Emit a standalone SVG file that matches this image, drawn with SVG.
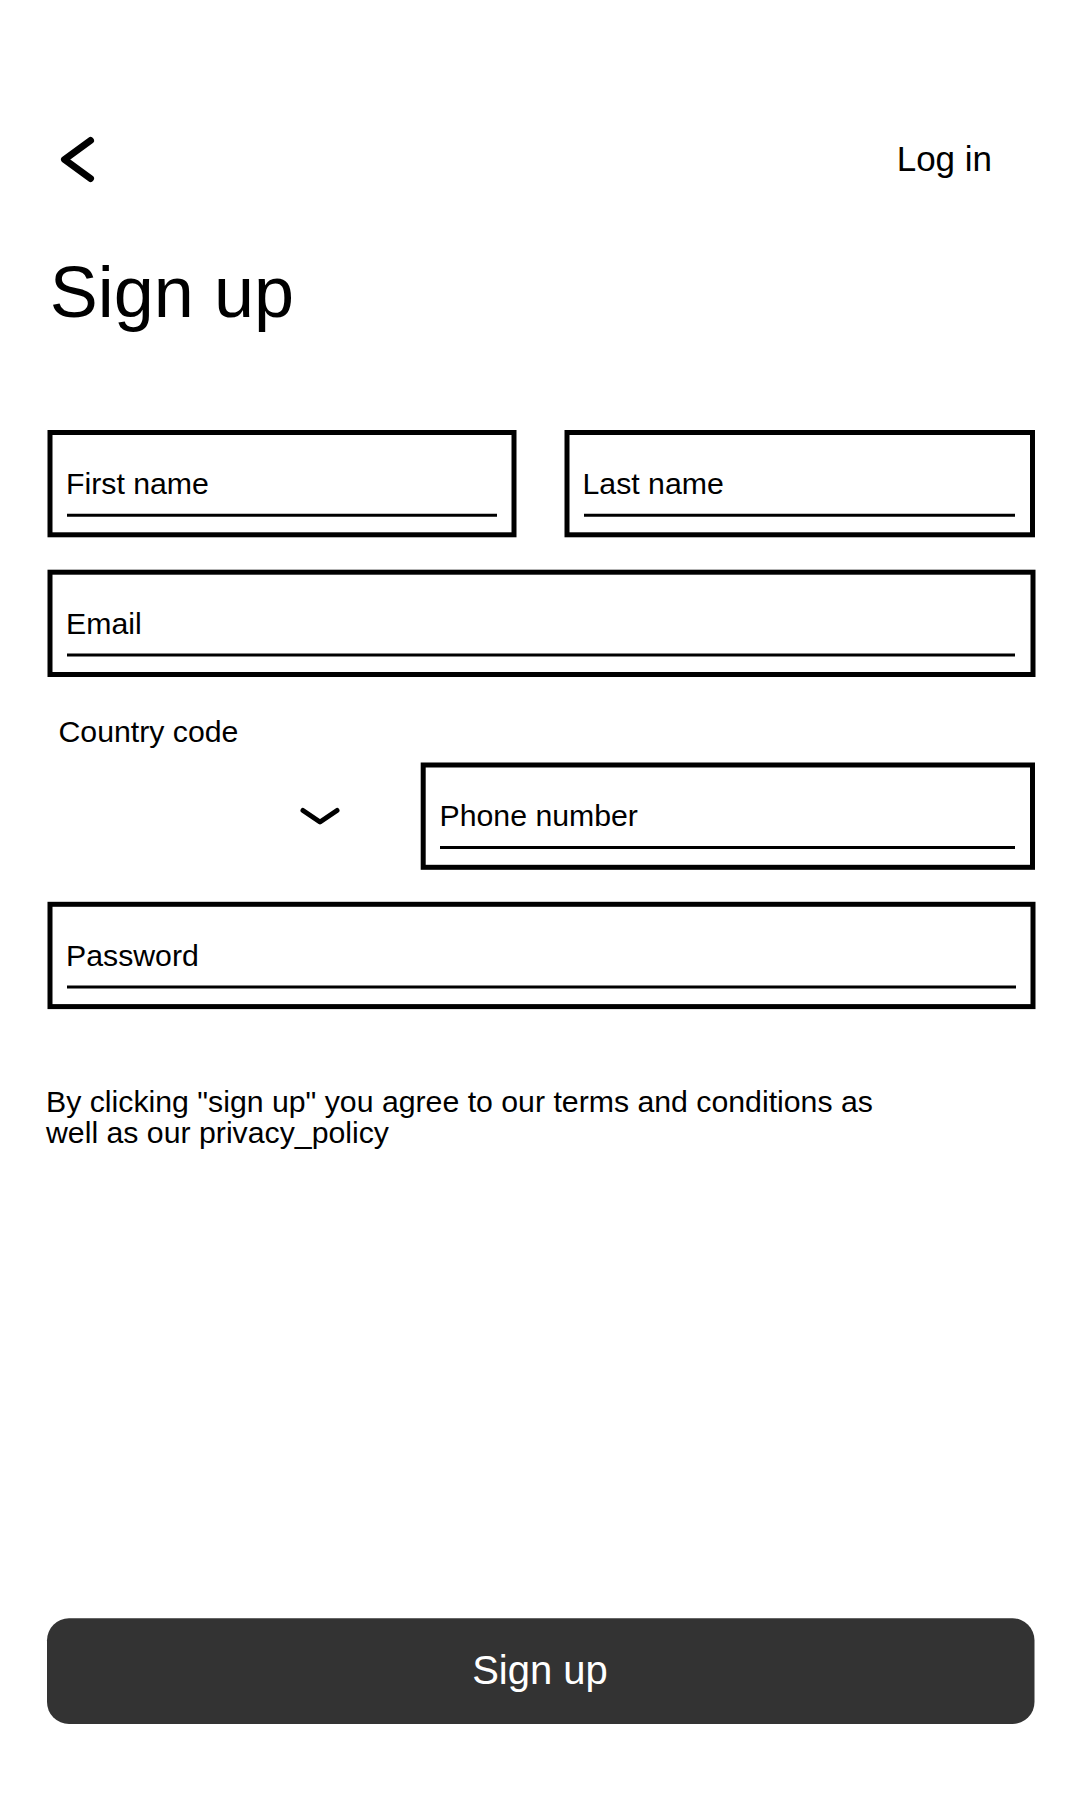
<svg xmlns="http://www.w3.org/2000/svg" width="1080" height="1800" viewBox="0 0 1080 1800">
  <style>
    text { font-family: "Liberation Sans", Arial, sans-serif; fill: #000000; }
    .box { fill: none; stroke: #000000; stroke-width: 5; }
    .ul { stroke: #000000; stroke-width: 3; }
    .lbl { font-size: 30.25px; }
    .chev { fill: none; stroke: #000000; stroke-linejoin: round; stroke-linecap: round; }
  </style>
  <rect x="0" y="0" width="1080" height="1800" fill="#ffffff"/>

  <g id="back-button">
    <polyline class="chev" points="90.5,140.5 64.5,159.5 90.5,178.5" stroke-width="7"/>
  </g>

  <g id="login-link">
    <text x="896.7" y="171" font-size="35">Log in</text>
  </g>

  <g id="title">
    <text x="49.8" y="316.7" font-size="72">Sign up</text>
  </g>

  <g id="first-name">
    <rect class="box" x="50" y="432.5" width="464" height="102.3"/>
    <line class="ul" x1="67" y1="515.3" x2="497" y2="515.3"/>
    <text class="lbl" x="66" y="493.5">First name</text>
  </g>

  <g id="last-name">
    <rect class="box" x="567" y="432.5" width="465.5" height="102.3"/>
    <line class="ul" x1="584" y1="515.3" x2="1015" y2="515.3"/>
    <text class="lbl" x="582.5" y="493.5">Last name</text>
  </g>

  <g id="email">
    <rect class="box" x="50" y="572.2" width="983" height="102.3"/>
    <line class="ul" x1="67" y1="655" x2="1015" y2="655"/>
    <text class="lbl" x="66" y="633.6">Email</text>
  </g>

  <g id="country-code">
    <text class="lbl" x="58.5" y="741.7">Country code</text>
    <polyline class="chev" points="303,810.5 320,822 337,810.5" stroke-width="5" stroke-linecap="butt" stroke-linejoin="miter"/>
  </g>

  <g id="phone-number">
    <rect class="box" x="423.2" y="765" width="609.3" height="102.3"/>
    <line class="ul" x1="440" y1="847.6" x2="1015" y2="847.6"/>
    <text class="lbl" x="439.5" y="826.2">Phone number</text>
  </g>

  <g id="password">
    <rect class="box" x="50" y="904.3" width="983" height="102.3"/>
    <line class="ul" x1="67" y1="987" x2="1016" y2="987"/>
    <text class="lbl" x="66" y="965.5">Password</text>
  </g>

  <g id="terms">
    <text class="lbl" x="46" y="1112">By clicking "sign up" you agree to our terms and conditions as</text>
    <text class="lbl" x="46" y="1143">well as our privacy_policy</text>
  </g>

  <g id="signup-button">
    <rect x="47" y="1618.3" width="987.5" height="105.7" rx="22" ry="22" fill="#333333"/>
    <text x="540" y="1684" font-size="40" text-anchor="middle" style="fill:#ffffff">Sign up</text>
  </g>

  <g id="connectors"></g>
</svg>
